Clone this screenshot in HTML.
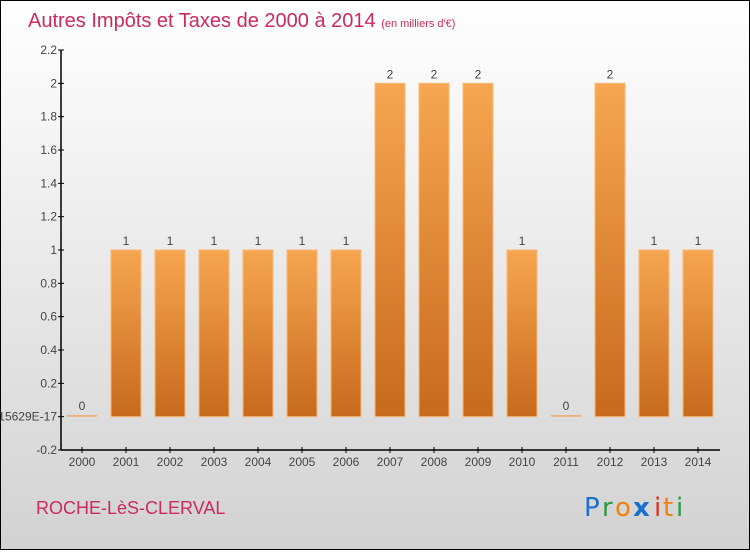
<!DOCTYPE html>
<html><head><meta charset="utf-8"><style>
html,body{margin:0;padding:0;}
body{width:750px;height:550px;overflow:hidden;font-family:"Liberation Sans","DejaVu Sans",sans-serif;}
</style></head><body>
<svg id="chart" width="750" height="550" xmlns="http://www.w3.org/2000/svg">
<defs>
<linearGradient id="bg" x1="0" y1="0" x2="0" y2="1"><stop offset="0" stop-color="#ffffff"/><stop offset="1" stop-color="#d2d2d2"/></linearGradient>
<linearGradient id="bar" x1="0" y1="0" x2="0" y2="1"><stop offset="0" stop-color="#f6a650"/><stop offset="1" stop-color="#c76a1c"/></linearGradient>
</defs>
<rect x="0.5" y="0.5" width="749" height="549" fill="url(#bg)" stroke="#000"/>
<text x="28" y="27" font-size="20" fill="#cc2a5c">Autres Impôts et Taxes de 2000 à 2014 <tspan font-size="11">(en milliers d'€)</tspan></text>
<text x="36" y="514" font-size="18" fill="#cc2a5c">ROCHE-LèS-CLERVAL</text>
<g font-size="26" font-family="'DejaVu Sans',sans-serif">
<text x="584" y="516" fill="#1a6fd0">P</text><text x="602" y="516" fill="#2a9a3a">r</text><text x="615" y="516" fill="#f08010">o</text><text x="633" y="516" fill="#1a6fd0" font-weight="bold">x</text><text x="654" y="516" fill="#e03020">i</text><text x="663" y="516" fill="#f08010">t</text><text x="676" y="516" fill="#2a9a3a">i</text>
</g>
<g id="axes"></g>
<g id="bars"></g>
</svg>
<script>
const categories=["2000","2001","2002","2003","2004","2005","2006","2007","2008","2009","2010","2011","2012","2013","2014"];
const values=[0,1,1,1,1,1,1,2,2,2,1,0,2,1,1];
const valueLabels=["0","1","1","1","1","1","1","2","2","2","1","0","2","1","1"];
const yTicks=[-0.2,0,0.2,0.4,0.6,0.8,1,1.2,1.4,1.6,1.8,2,2.2];
const yTickLabels=["-0.2","-2.7755575615629E-17","0.2","0.4","0.6","0.8","1","1.2","1.4","1.6","1.8","2","2.2"];
const NS="http://www.w3.org/2000/svg";
const y0=450,y1=50,vmin=-0.2,vmax=2.2;
function yS(v){return y0-(v-vmin)/(vmax-vmin)*(y0-y1);}
function xS(i){return 82+44*i;}
function mk(t,a,p){const e=document.createElementNS(NS,t);for(const k in a)e.setAttribute(k,a[k]);p.appendChild(e);return e;}
const ax=document.getElementById('axes'),bg=document.getElementById('bars');
const yl=mk('line',{x1:61,y1:y1,x2:61,y2:y0,stroke:'#000','stroke-width':1.5},ax);


const xl=mk('line',{x1:61,y1:y0,x2:720,y2:y0,stroke:'#000','stroke-width':1.5},ax);


yTicks.forEach((v,i)=>{
  const y=yS(v);
  mk('line',{x1:58,y1:y,x2:64,y2:y,stroke:'#000'},ax);
  const t=mk('text',{x:57,y:y+4,'text-anchor':'end','font-size':12,fill:'#444'},ax);
  t.textContent=yTickLabels[i];
  
  
});
categories.forEach((c,i)=>{
  const x=xS(i);
  mk('line',{x1:x,y1:y0-3,x2:x,y2:y0+3,stroke:'#000'},ax);
  const t=mk('text',{x:x,y:466,'text-anchor':'middle','font-size':12,fill:'#444'},ax);
  t.textContent=c;
  
  
  const v=values[i];
  const top=yS(Math.max(v,0)),bot=yS(0);
  const h=Math.max(bot-top,1.5);
  const r=mk('rect',{x:x-15,y:bot-h,width:30,height:h,fill:v===0?'#f0a868':'url(#bar)',stroke:'#f8b878','stroke-width':v===0?0:1},bg);
  
  
  const l=mk('text',{x:x,y:bot-h-5,'text-anchor':'middle','font-size':12,fill:'#444'},bg);
  l.textContent=valueLabels[i];
  
  
});
</script>
</body></html>
